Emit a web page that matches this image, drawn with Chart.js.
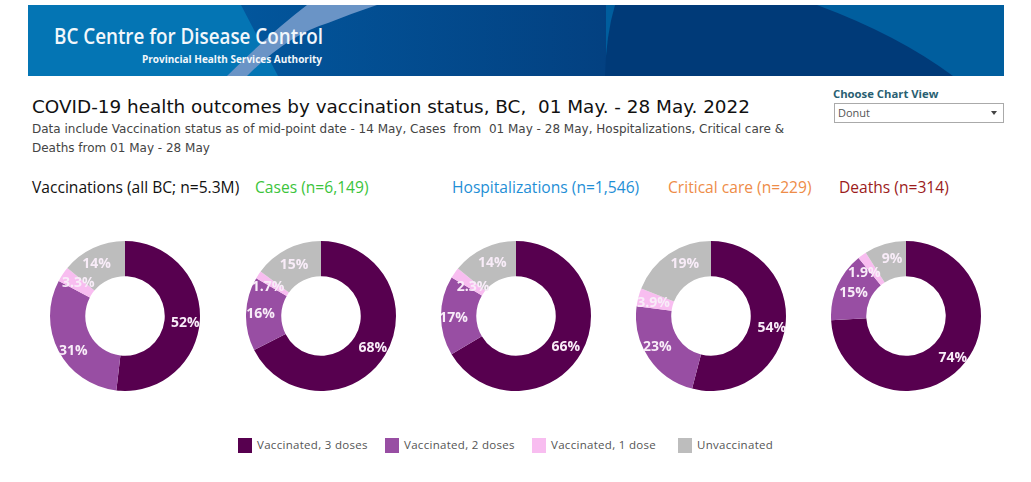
<!DOCTYPE html>
<html>
<head>
<meta charset="utf-8">
<title>COVID-19 health outcomes by vaccination status</title>
<script src="https://cdn.jsdelivr.net/npm/chart.js@4"></script>
<style>
    html, body { margin: 0; padding: 0; background: #fff; overflow: hidden; }
    body { width: 1031px; height: 482px; position: relative; font-family: "Open Sans", sans-serif; }
    .abs { position: absolute; white-space: nowrap; }
    #banner { position: absolute; left: 28px; top: 5px; }
    .head { top: 177px; font-size: 15.6px; line-height: 20px; }
    .donut { position: absolute; top: 241px; width: 150px; height: 150px; }
    #legend .item { position: absolute; top: 437px; font-size: 11.5px; line-height: 16px; color: #555; white-space: nowrap; padding-left: 19px; letter-spacing: 0.3px; }
    #legend .swatch { position: absolute; left: 0; top: 1px; width: 14px; height: 15px; }
</style>
</head>
<body>
<svg id="banner" width="976" height="71" viewBox="0 0 976 71">
    <defs>
        <linearGradient id="midBlue" x1="0" x2="1" y1="0" y2="0">
            <stop offset="0" stop-color="#02569c"/>
            <stop offset="1" stop-color="#034080"/>
        </linearGradient>
    </defs>
    <rect width="976" height="71" fill="#0475b4"/>
    <polygon points="213,0 590,0 580,71 250,71" fill="url(#midBlue)"/>
    <rect x="578" width="398" height="71" fill="#005e9e"/>
    <path d="M587,0 L789,0 Q870,30 925,71 L577,71 Q578,30 587,0 Z" fill="#003a78"/>
    <path d="M349,0 L279,0 Q240,30 199,71 L219,71 Q260,30 300,18 Q325,8 349,0 Z" fill="#6a94c6"/>
    <text x="26" y="39" fill="#f2f7fb" font-family="Open Sans" font-weight="600" font-size="22" textLength="269" lengthAdjust="spacingAndGlyphs">BC Centre for Disease Control</text>
    <text x="114" y="58" fill="#f2f7fb" font-family="Open Sans" font-weight="700" font-size="10.5" textLength="180" lengthAdjust="spacingAndGlyphs">Provincial Health Services Authority</text>
</svg>

<div class="abs" style="left:32px;top:94px;font:18.4px/26px 'DejaVu Sans';color:#111;">COVID-19 health outcomes by vaccination status, BC,&nbsp; 01 May. - 28 May. 2022</div>
<div class="abs" style="left:32px;top:120px;font:12px/19px 'DejaVu Sans';color:#444;">Data include Vaccination status as of mid-point date - 14 May, Cases&nbsp; from&nbsp; 01 May - 28 May, Hospitalizations, Critical care &amp;<br>Deaths from 01 May - 28 May</div>

<div class="abs" style="left:833px;top:86px;font-size:11.3px;font-weight:700;line-height:16px;color:#2a5f72;">Choose Chart View</div>
<div class="abs" style="left:834px;top:103px;width:168px;height:18px;border:1px solid #aaa;font-size:11px;line-height:18px;color:#555;">
    <span style="margin-left:3px;">Donut</span>
    <span style="position:absolute;right:6px;top:7px;width:0;height:0;border-left:3px solid transparent;border-right:3px solid transparent;border-top:4px solid #444;"></span>
</div>

<div id="heads"></div>
<div id="charts"></div>
<div id="legend"></div>

<script>
// Data
const categories = ['Vaccinated, 3 doses', 'Vaccinated, 2 doses', 'Vaccinated, 1 dose', 'Unvaccinated'];
const vaccinations = [52, 31, 3.3, 14];
const cases = [68, 16, 1.7, 15];
const hospitalizations = [66, 17, 2.3, 14];
const criticalCare = [54, 23, 3.9, 19];
const deaths = [74, 15, 1.9, 9];

const panelTitles = ['Vaccinations (all BC; n=5.3M)', 'Cases (n=6,149)', 'Hospitalizations (n=1,546)', 'Critical care (n=229)', 'Deaths (n=314)'];
const panelValues = [vaccinations, cases, hospitalizations, criticalCare, deaths];

// Styling
const sliceColors = ['#57004f', '#984ea3', '#f8bdf0', '#bdbdbd'];
const titleColors = ['#111111', '#3cc43c', '#1f8fd6', '#ee8c48', '#9c1c1c'];
const titleLefts = [32, 255, 452, 668, 839];
const donutLefts = [50, 246, 441, 636, 831];
const legendLefts = [238, 385, 532, 678];

// The original labels sit a little off the arc centres: [dx, dy] per slice, per panel
const labelNudges = [
    [[3, 4], [-1, 8], [1, -1], [-4, 0]],
    [[3, 2], [-3, 0], [-5, 3], [-1, 0]],
    [[0, 3], [-5, 2], [4, 4], [1, -1]],
    [[4, 5], [-6, -1], [-2, 1], [6, -5]],
    [[5, 3], [0, 0], [-8, 4], [2, -2]]
];

// Draws the value of each slice near the middle of its arc
const sliceLabels = {
    id: 'sliceLabels',
    afterDatasetsDraw(chart, args, options) {
        const ctx = chart.ctx;
        const values = chart.data.datasets[0].data;
        ctx.save();
        ctx.font = 'bold 14px "Open Sans"';
        ctx.fillStyle = '#f8ecf8';
        ctx.textAlign = 'center';
        ctx.textBaseline = 'middle';
        chart.getDatasetMeta(0).data.forEach((arc, i) => {
            const pos = arc.getCenterPoint();
            const nudge = options.nudges[i];
            ctx.fillText(values[i] + '%', pos.x + nudge[0], pos.y + nudge[1]);
        });
        ctx.restore();
    }
};

function createDonut(left, values, nudges) {
    const box = document.createElement('div');
    box.className = 'donut';
    box.style.left = left + 'px';
    const canvas = document.createElement('canvas');
    box.appendChild(canvas);
    document.getElementById('charts').appendChild(box);

    new Chart(canvas, {
        type: 'doughnut',
        data: {
            labels: categories,
            datasets: [{ data: values, backgroundColor: sliceColors, borderWidth: 0 }]
        },
        options: {
            responsive: true,
            maintainAspectRatio: false,
            animation: false,
            cutout: '53%',
            plugins: {
                legend: { display: false },
                tooltip: { enabled: false },
                sliceLabels: { nudges: nudges }
            }
        },
        plugins: [sliceLabels]
    });
}

function addHeads() {
    const holder = document.getElementById('heads');
    panelTitles.forEach((title, i) => {
        const el = document.createElement('div');
        el.className = 'abs head';
        el.style.left = titleLefts[i] + 'px';
        el.style.color = titleColors[i];
        el.textContent = title;
        holder.appendChild(el);
    });
}

function addLegend() {
    const holder = document.getElementById('legend');
    categories.forEach((name, i) => {
        const item = document.createElement('div');
        item.className = 'item';
        item.style.left = legendLefts[i] + 'px';
        item.textContent = name;
        const swatch = document.createElement('span');
        swatch.className = 'swatch';
        swatch.style.background = sliceColors[i];
        item.appendChild(swatch);
        holder.appendChild(item);
    });
}

document.addEventListener('DOMContentLoaded', function() {
    addHeads();
    panelValues.forEach((values, i) => createDonut(donutLefts[i], values, labelNudges[i]));
    addLegend();
});
</script>
</body>
</html>
